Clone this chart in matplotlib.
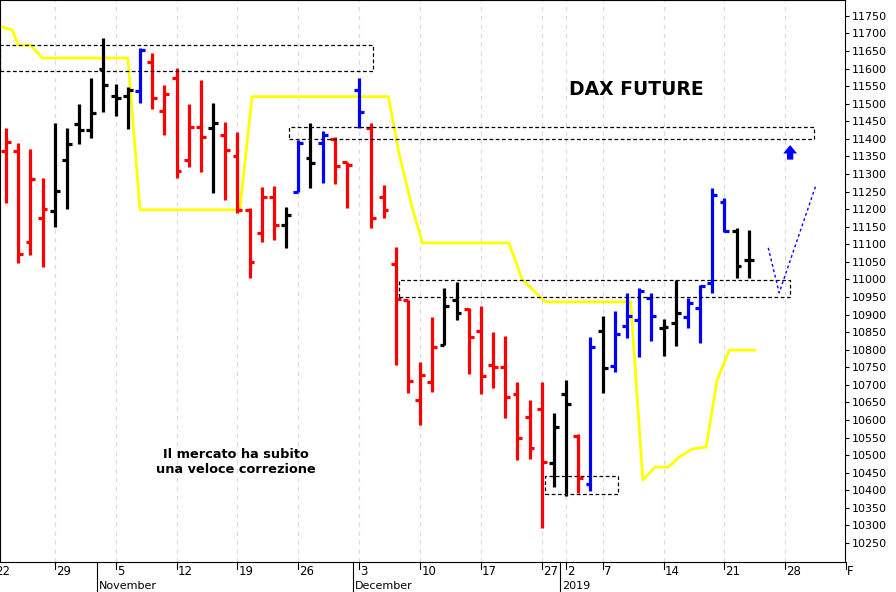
import matplotlib
matplotlib.use('Agg')
import matplotlib.pyplot as plt
from matplotlib.patches import Rectangle

plt.rcParams['font.family'] = ['DejaVu Sans']

# dati OHLC giornalieri (indice di seduta, da 22 ott 2018)
opens = [11540, 11366, 11366, 11107, 11175, 11195, 11340, 11443, 11426, 11599, 11522,
         11522, 11537, 11619, 11480, 11574, 11340, 11434, 11431, 11411, 11352,
         11198, 11132, 11235, 11155, 11249, 11346, 11389, 11400, 11334, 11539,
         11431, 11235, 11044, 10942, 10657, 10708, 10814, 10942, 10916, 10854,
         10757, 10751, 10674, 10609, 10632, 10478, 10674, 10555, 10418, 10854,
         10754, 10868, 10885, 10947, 10862, 10876, 10893, 10919, 10990, 11221,
         11138, 11056]
highs = [11600, 11431, 11389, 11371, 11289, 11445, 11431, 11500, 11574, 11687, 11556,
         11548, 11659, 11645, 11554, 11602, 11500, 11568, 11502, 11448, 11420,
         11204, 11263, 11266, 11206, 11397, 11445, 11423, 11406, 11334, 11574,
         11445, 11269, 11093, 10942, 10765, 10893, 10976, 10993, 10919, 10925,
         10851, 10839, 10708, 10657, 10708, 10620, 10714, 10560, 10836, 10896,
         10910, 10962, 10976, 10962, 10888, 10999, 10947, 10984, 11261, 11232,
         11147, 11141]
lows = [11450, 11218, 11047, 11070, 11036, 11150, 11201, 11386, 11403, 11477, 11465,
        11428, 11502, 11485, 11411, 11289, 11320, 11306, 11246, 11226, 11189,
        11004, 11107, 11112, 11090, 11249, 11261, 11275, 11272, 11204, 11431,
        11147, 11175, 10757, 10677, 10586, 10680, 10814, 10885, 10731, 10674,
        10691, 10606, 10486, 10489, 10293, 10410, 10384, 10392, 10398, 10677,
        10737, 10834, 10780, 10825, 10782, 10811, 10862, 10819, 10962, 11135,
        11004, 11004]
closes = [11525, 11391, 11073, 11286, 11201, 11252, 11386, 11426, 11474, 11554, 11517,
          11539, 11653, 11517, 11528, 11309, 11434, 11406, 11445, 11369, 11198,
          11050, 11235, 11155, 11184, 11389, 11332, 11411, 11323, 11326, 11477,
          11175, 11198, 10945, 10711, 10728, 10808, 10925, 10905, 10836, 10725,
          10751, 10666, 10549, 10521, 10481, 10580, 10646, 10435, 10808, 10748,
          10845, 10896, 10967, 10896, 10865, 10905, 10933, 10982, 11241, 11138,
          11039, 11056]
bar_colors = list('rrrrrkkkkkkkbrrrrrkrrrrrkbkbrrbrrrrrrkkrrrrrrrkkrbkbbbbkkbbbbkk')

# linea gialla (indicatore)
yel_x = [0.5, 1.5, 2.0, 3.0, 4.0, 11.0, 12.0, 20.2, 21.2, 32.4, 33.3, 34.4, 35.2, 42.3,
         43.4, 45.3, 52.3, 53.3, 54.3, 55.4, 56.3, 57.4, 58.5, 59.4, 60.4, 62.5]
yel_y = [11720, 11710, 11667, 11667, 11630, 11630, 11198, 11198, 11520, 11520, 11354,
         11198, 11104, 11104, 10999, 10936, 10936, 10429, 10466, 10466, 10495, 10518,
         10523, 10714, 10799, 10799]

# zone tratteggiate: (x0, x1, prezzo basso, prezzo alto)
zones = [(0.5, 31.1, 11593, 11667), (24.2, 67.4, 11400, 11434),
         (33.3, 65.4, 10950, 10999), (45.3, 51.3, 10390, 10441)]

# proiezione
proj_x = [63.6, 64.5, 67.5]
proj_y = [11090, 10962, 11266]

# asse date
tick_idx = [0, 5, 10, 15, 20, 25, 30, 35, 40, 45, 47, 50, 55, 60, 65, 70]
tick_lab = ['22', '29', '5', '12', '19', '26', '3', '10', '17', '27', '2', '7', '14', '21', '28', 'F']
month_idx = [8.5, 29.5, 46.5]
month_lab = ['November', 'December', '2019']

cmap = {'r': '#ff0000', 'k': '#000000', 'b': '#0000ff'}

fig = plt.figure(figsize=(8.96, 5.92), dpi=100)
ax = fig.add_axes([0.0, 0.0507, 0.943, 0.9493])
ax.set_xlim(0.5, 69.9)
ax.set_ylim(10196, 11795)

for i in tick_idx:
    ax.axvline(i, color='#d8d8ee', lw=0.8, ls=(0, (4, 4)), zorder=0)

ax.plot(yel_x, yel_y, color='#ffff00', lw=2, zorder=2)

for i in range(len(opens)):
    c = cmap[bar_colors[i]]
    ax.vlines(i, lows[i], highs[i], color=c, lw=2.3, zorder=3)
    ax.hlines(opens[i], i - 0.4, i, color=c, lw=2.3, zorder=3)
    ax.hlines(closes[i], i, i + 0.4, color=c, lw=2.3, zorder=3)

for x0, x1, lo, hi in zones:
    ax.add_patch(Rectangle((x0, lo), x1 - x0, hi - lo, fill=False, ec='black',
                           lw=0.9, ls=(0, (3, 2)), zorder=4))

ax.plot(proj_x, proj_y, color='#0000ff', lw=1, ls=(0, (2, 2)), zorder=4)
ax.annotate('', xy=(65.4, 11390), xytext=(65.4, 11333),
            arrowprops=dict(arrowstyle='simple,head_width=1.0,head_length=0.6,tail_width=0.45',
                            color='#0000ff', lw=0), zorder=5)

ax.text(52.8, 11539, 'DAX FUTURE', ha='center', va='center', fontsize=13.5, fontweight='bold')
ax.text(19.9, 10480, 'Il mercato ha subito\nuna veloce correzione', ha='center', va='center',
        fontsize=9.3, fontweight='bold', linespacing=1.2)

ax.yaxis.tick_right()
ax.set_yticks(range(10250, 11751, 50))
ax.tick_params(axis='y', labelsize=8, length=3, pad=2)
ax.set_xticks([])

trans = ax.get_xaxis_transform()
for i, lab in zip(tick_idx, tick_lab):
    ax.text(i + 0.1, -0.006, lab, transform=trans, ha='left', va='top', fontsize=8.5, clip_on=False)
    ax.plot([i, i], [0, -0.012], transform=trans, color='black', lw=0.8, clip_on=False)
for i, lab in zip(month_idx, month_lab):
    ax.plot([i, i], [0, -0.06], transform=trans, color='black', lw=0.8, clip_on=False)
    ax.text(i + 0.15, -0.033, lab, transform=trans, ha='left', va='top', fontsize=8, clip_on=False)

for s in ax.spines.values():
    s.set_linewidth(0.8)

fig.savefig('out.png', dpi=100, facecolor='white')
